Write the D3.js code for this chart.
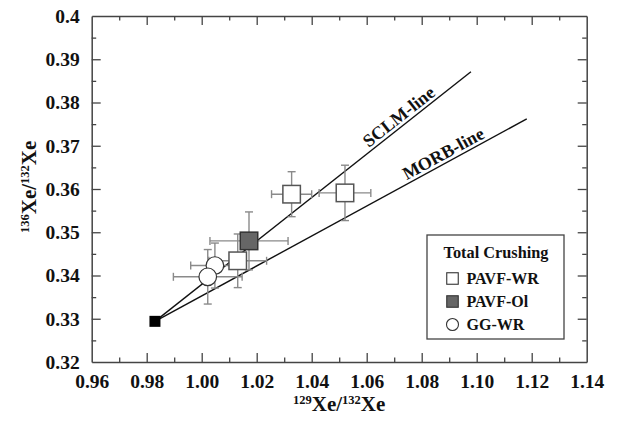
<!DOCTYPE html>
<html>
<head>
<meta charset="utf-8">
<script src="https://cdn.jsdelivr.net/npm/d3@7"></script>
<style>
  body { margin: 0; background: #fff; }
</style>
</head>
<body>
<svg id="chart" width="617" height="423"></svg>
<script>
// Xe isotope ratios (129Xe/132Xe vs 136Xe/132Xe), total crushing extraction
const xTicks = [0.96, 0.98, 1.00, 1.02, 1.04, 1.06, 1.08, 1.10, 1.12, 1.14];
const yTicks = [0.32, 0.33, 0.34, 0.35, 0.36, 0.37, 0.38, 0.39, 0.4];

// PAVF whole rock
const pavfWR = [
  { x: 1.0327, y: 0.3588, ex: 0.0073, ey: 0.0052 },
  { x: 1.0521, y: 0.3591, ex: 0.0094, ey: 0.0064 },
  { x: 1.0131, y: 0.3434, ex: 0.0105, ey: 0.0062 }
];
// PAVF olivine
const pavfOl = [
  { x: 1.0172, y: 0.3480, ex: 0.0142, ey: 0.0067 }
];
// GG whole rock
const ggWR = [
  { x: 1.0048, y: 0.3423, ex: 0.0088, ey: 0.0052 },
  { x: 1.0022, y: 0.3397, ex: 0.0125, ey: 0.0063 }
];
// atmospheric composition
const air = { x: 0.983, y: 0.3294 };

// reference mixing lines starting at air
const sclmLine = [air, { x: 1.0979, y: 0.3871 }];
const morbLine = [air, { x: 1.1182, y: 0.3762 }];

const FONT = '"Liberation Serif", "Times New Roman", serif';
const margin = { top: 16, right: 30.3, bottom: 61, left: 91.7 };
const W = 617, H = 423;
const svg = d3.select("#chart");

const x = d3.scaleLinear().domain([0.96, 1.14]).range([margin.left, W - margin.right]);
const y = d3.scaleLinear().domain([0.32, 0.4]).range([H - margin.bottom, margin.top]);

const axisColor = "#444";
const minorX = d3.range(0.97, 1.14, 0.02);
const minorY = d3.range(0.325, 0.4, 0.01);

// frame axes with inward ticks on all four sides
const g = svg.append("g");
function styleAxis(sel) {
  sel.attr("font-family", FONT);
  sel.select(".domain").attr("stroke", axisColor).attr("stroke-width", 1.5);
  sel.selectAll(".tick line").attr("stroke", axisColor).attr("stroke-width", 1.3);
}
const axBottom = g.append("g").attr("transform", `translate(0,${y(0.32)})`)
  .call(d3.axisBottom(x).tickValues(xTicks).tickSize(-9).tickSizeOuter(0).tickPadding(12.5).tickFormat(d3.format(".2f")));
styleAxis(axBottom);
axBottom.attr("font-size", 19.5).attr("font-weight", "bold");
axBottom.select(".tick:first-of-type line").remove();
axBottom.select(".tick:last-of-type line").remove();
const axBottomMinor = g.append("g").attr("transform", `translate(0,${y(0.32)})`)
  .call(d3.axisBottom(x).tickValues(minorX).tickSize(-4.5).tickFormat(""));
axBottomMinor.select(".domain").remove();
styleAxis(axBottomMinor);

const axTop = g.append("g").attr("transform", `translate(0,${y(0.4)})`)
  .call(d3.axisTop(x).tickValues(xTicks.slice(1, -1)).tickSize(-9).tickSizeOuter(0).tickFormat(""));
styleAxis(axTop);
const axTopMinor = g.append("g").attr("transform", `translate(0,${y(0.4)})`)
  .call(d3.axisTop(x).tickValues(minorX).tickSize(-4.5).tickFormat(""));
axTopMinor.select(".domain").remove();
styleAxis(axTopMinor);

const axLeft = g.append("g").attr("transform", `translate(${x(0.96)},0)`)
  .call(d3.axisLeft(y).tickValues(yTicks).tickSize(-9).tickSizeOuter(0).tickPadding(12).tickFormat(d => String(+d.toFixed(2))));
styleAxis(axLeft);
axLeft.attr("font-size", 19.5).attr("font-weight", "bold");
axLeft.select(".tick:first-of-type line").remove();
axLeft.select(".tick:last-of-type line").remove();
const axLeftMinor = g.append("g").attr("transform", `translate(${x(0.96)},0)`)
  .call(d3.axisLeft(y).tickValues(minorY).tickSize(-4.5).tickFormat(""));
axLeftMinor.select(".domain").remove();
styleAxis(axLeftMinor);

const axRight = g.append("g").attr("transform", `translate(${x(1.14)},0)`)
  .call(d3.axisRight(y).tickValues(yTicks.slice(1, -1)).tickSize(-9).tickSizeOuter(0).tickFormat(""));
styleAxis(axRight);
const axRightMinor = g.append("g").attr("transform", `translate(${x(1.14)},0)`)
  .call(d3.axisRight(y).tickValues(minorY).tickSize(-4.5).tickFormat(""));
axRightMinor.select(".domain").remove();
styleAxis(axRightMinor);

// axis titles with superscript mass numbers
function isoTitle(sel, a, b, big, small) {
  sel.append("tspan").attr("font-size", small).attr("dy", -7).text(a);
  sel.append("tspan").attr("font-size", big).attr("dy", 7).text("Xe/");
  sel.append("tspan").attr("font-size", small).attr("dy", -7).text(b);
  sel.append("tspan").attr("font-size", big).attr("dy", 7).text("Xe");
}
const xt = svg.append("text").attr("x", x(1.05)).attr("y", 411).attr("text-anchor", "middle");
isoTitle(xt, "129", "132", 21, 12.5);
const yt = svg.append("text").attr("transform", `translate(36,${y(0.3605)}) rotate(-90)`).attr("text-anchor", "middle");
isoTitle(yt, "136", "132", 21, 12.5);

// mixing lines
const line = d3.line().x(d => x(d.x)).y(d => y(d.y));
[sclmLine, morbLine].forEach(l => {
  svg.append("path").datum(l).attr("d", line).attr("fill", "none").attr("stroke", "#111").attr("stroke-width", 1.4);
});

// line labels rotated along their lines
function lineLabel(l, xv, off, txt) {
  const p0 = [x(l[0].x), y(l[0].y)], p1 = [x(l[1].x), y(l[1].y)];
  const ang = Math.atan2(p1[1] - p0[1], p1[0] - p0[0]);
  const t = (x(xv) - p0[0]) / (p1[0] - p0[0]);
  const px = p0[0] + t * (p1[0] - p0[0]), py = p0[1] + t * (p1[1] - p0[1]);
  svg.append("text")
    .attr("transform", `translate(${px + Math.sin(ang) * off},${py - Math.cos(ang) * off}) rotate(${ang * 180 / Math.PI})`)
    .attr("text-anchor", "middle").attr("font-size", 18).text(txt);
}
lineLabel(sclmLine, 1.0738, 3.5, "SCLM-line");
lineLabel(morbLine, 1.0895, 3.5, "MORB-line");

// error bars
const errColor = "#8a8a8a", cap = 4;
const allPts = pavfWR.concat(pavfOl, ggWR);
const eb = svg.append("g").attr("stroke", errColor).attr("stroke-width", 1.4);
allPts.forEach(d => {
  eb.append("line").attr("x1", x(d.x - d.ex)).attr("x2", x(d.x + d.ex)).attr("y1", y(d.y)).attr("y2", y(d.y));
  eb.append("line").attr("x1", x(d.x)).attr("x2", x(d.x)).attr("y1", y(d.y - d.ey)).attr("y2", y(d.y + d.ey));
  [d.x - d.ex, d.x + d.ex].forEach(v => eb.append("line").attr("x1", x(v)).attr("x2", x(v)).attr("y1", y(d.y) - cap).attr("y2", y(d.y) + cap));
  [d.y - d.ey, d.y + d.ey].forEach(v => eb.append("line").attr("y1", y(v)).attr("y2", y(v)).attr("x1", x(d.x) - cap).attr("x2", x(d.x) + cap));
});

// markers
const sq = 17.5, markerStroke = "#555";
svg.selectAll(".ol").data(pavfOl).join("rect")
  .attr("x", d => x(d.x) - sq / 2).attr("y", d => y(d.y) - sq / 2).attr("width", sq).attr("height", sq)
  .attr("fill", "#666").attr("stroke", "#333").attr("stroke-width", 1.5);
svg.selectAll(".wr").data(pavfWR).join("rect")
  .attr("x", d => x(d.x) - sq / 2).attr("y", d => y(d.y) - sq / 2).attr("width", sq).attr("height", sq)
  .attr("fill", "#fff").attr("stroke", markerStroke).attr("stroke-width", 1.5);
svg.selectAll(".gg").data(ggWR).join("circle")
  .attr("cx", d => x(d.x)).attr("cy", d => y(d.y)).attr("r", 8.8)
  .attr("fill", "#fff").attr("stroke", "#333").attr("stroke-width", 1.2);
svg.append("rect").attr("x", x(air.x) - 5.5).attr("y", y(air.y) - 5.5).attr("width", 11).attr("height", 11).attr("fill", "#000");

// legend
const lg = svg.append("g").attr("transform", "translate(427,235)");
lg.append("rect").attr("width", 137).attr("height", 104).attr("fill", "#fff").attr("stroke", "#444").attr("stroke-width", 1.3);
lg.append("text").attr("x", 69).attr("y", 22.5).attr("text-anchor", "middle").attr("font-size", 16.3).text("Total Crushing");
const legendItems = ["PAVF-WR", "PAVF-Ol", "GG-WR"];
const ls = 11.5;
legendItems.forEach((name, i) => {
  const cy = 43.5 + i * 23;
  if (i === 2) {
    lg.append("circle").attr("cx", 25.5).attr("cy", cy).attr("r", 6).attr("fill", "#fff").attr("stroke", "#333").attr("stroke-width", 1.1);
  } else {
    lg.append("rect").attr("x", 25.5 - ls / 2).attr("y", cy - ls / 2).attr("width", ls).attr("height", ls)
      .attr("fill", i === 1 ? "#666" : "#fff").attr("stroke", "#333").attr("stroke-width", 1.1);
  }
  lg.append("text").attr("x", 39.5).attr("y", cy + 5.5).attr("font-size", 16).text(name);
});

// all chart text in bold serif
svg.selectAll("text").style("font-family", FONT).style("font-weight", "bold").attr("fill", "#111");
</script>
</body>
</html>
